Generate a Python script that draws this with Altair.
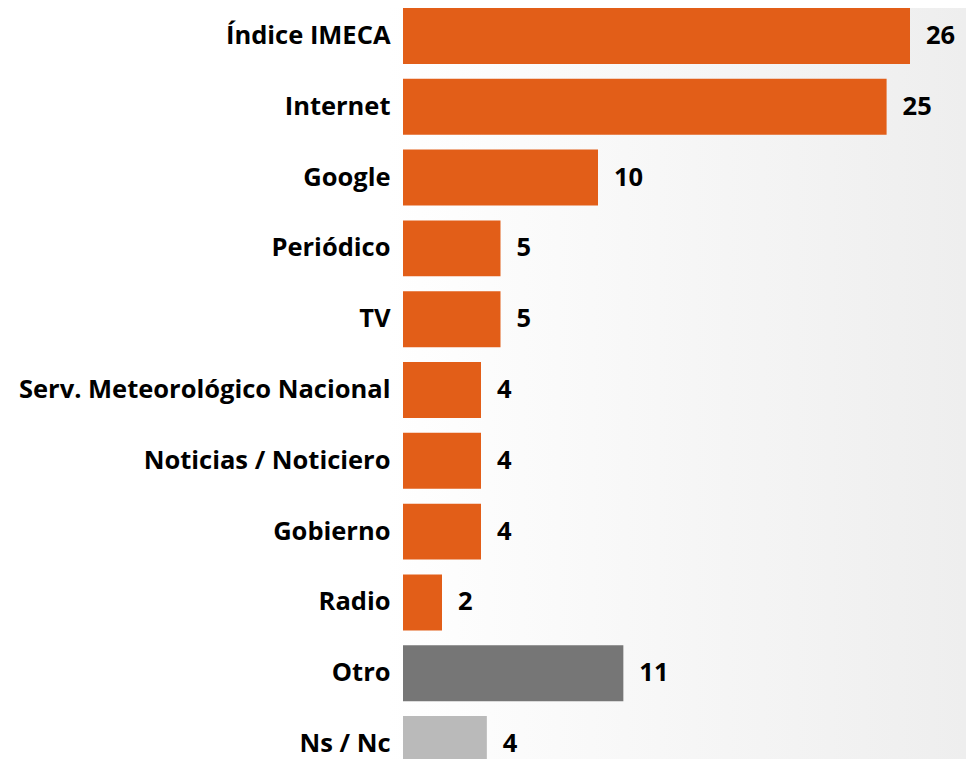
import altair as alt
import pandas as pd

categories = ["Índice IMECA", "Internet", "Google", "Periódico", "TV",
              "Serv. Meteorológico Nacional", "Noticias / Noticiero", "Gobierno",
              "Radio", "Otro", "Ns / Nc"]
values = [26.0, 24.8, 10.0, 5.0, 5.0, 4.0, 4.0, 4.0, 2.0, 11.3, 4.3]
groups = ["Medio"] * 9 + ["Otro", "Ns / Nc"]

df = pd.DataFrame({"cat": categories, "val": values, "grp": groups})

W, H = 546, 751
FONT = "Open Sans"
FS = 25.5

y = alt.Y("cat:N", sort=categories,
          scale=alt.Scale(paddingInner=0.21, paddingOuter=0, range=[0, 764]),
          axis=alt.Axis(title=None, ticks=False, domain=False, grid=False,
                        labelFont=FONT, labelFontSize=FS, labelFontWeight="bold",
                        labelColor="#000000", labelPadding=13, labelLimit=600,
                        zindex=2))
x = alt.X("val:Q", scale=alt.Scale(domain=[0, 28]), axis=None)

bg = alt.Chart(df).mark_rect(
    fill=alt.Gradient(gradient="linear",
                      stops=[alt.GradientStop(color="#ffffff", offset=0),
                             alt.GradientStop(color="#ffffff", offset=0.4),
                             alt.GradientStop(color="#eeeeee", offset=1)],
                      x1=0, x2=1, y1=0, y2=0)
).encode(x=alt.value(-403), x2=alt.value(W + 17), y=alt.value(-8), y2=alt.value(H + 30))

bars = alt.Chart(df).mark_bar().encode(
    y=y, x=x,
    color=alt.Color("grp:N", legend=None,
                    scale=alt.Scale(domain=["Medio", "Otro", "Ns / Nc"],
                                    range=["#E25E18", "#767676", "#BABABA"])))

labels = alt.Chart(df).mark_text(align="left", baseline="middle", dx=16,
                                 font=FONT, fontSize=FS, fontWeight="bold",
                                 color="#000000").encode(
    y=alt.Y("cat:N", sort=categories), x="val:Q", text=alt.Text("val:Q", format=".0f"))

chart = alt.layer(bg, bars, labels).properties(
    width=W, height=H,
    autosize=alt.AutoSizeParams(type="none"),
    padding={"left": 395, "top": 0, "right": 17, "bottom": 0},
).configure_view(stroke=None).configure(background="#ffffff")

chart.save("out.html", embed_options={"renderer": "svg", "actions": False})
